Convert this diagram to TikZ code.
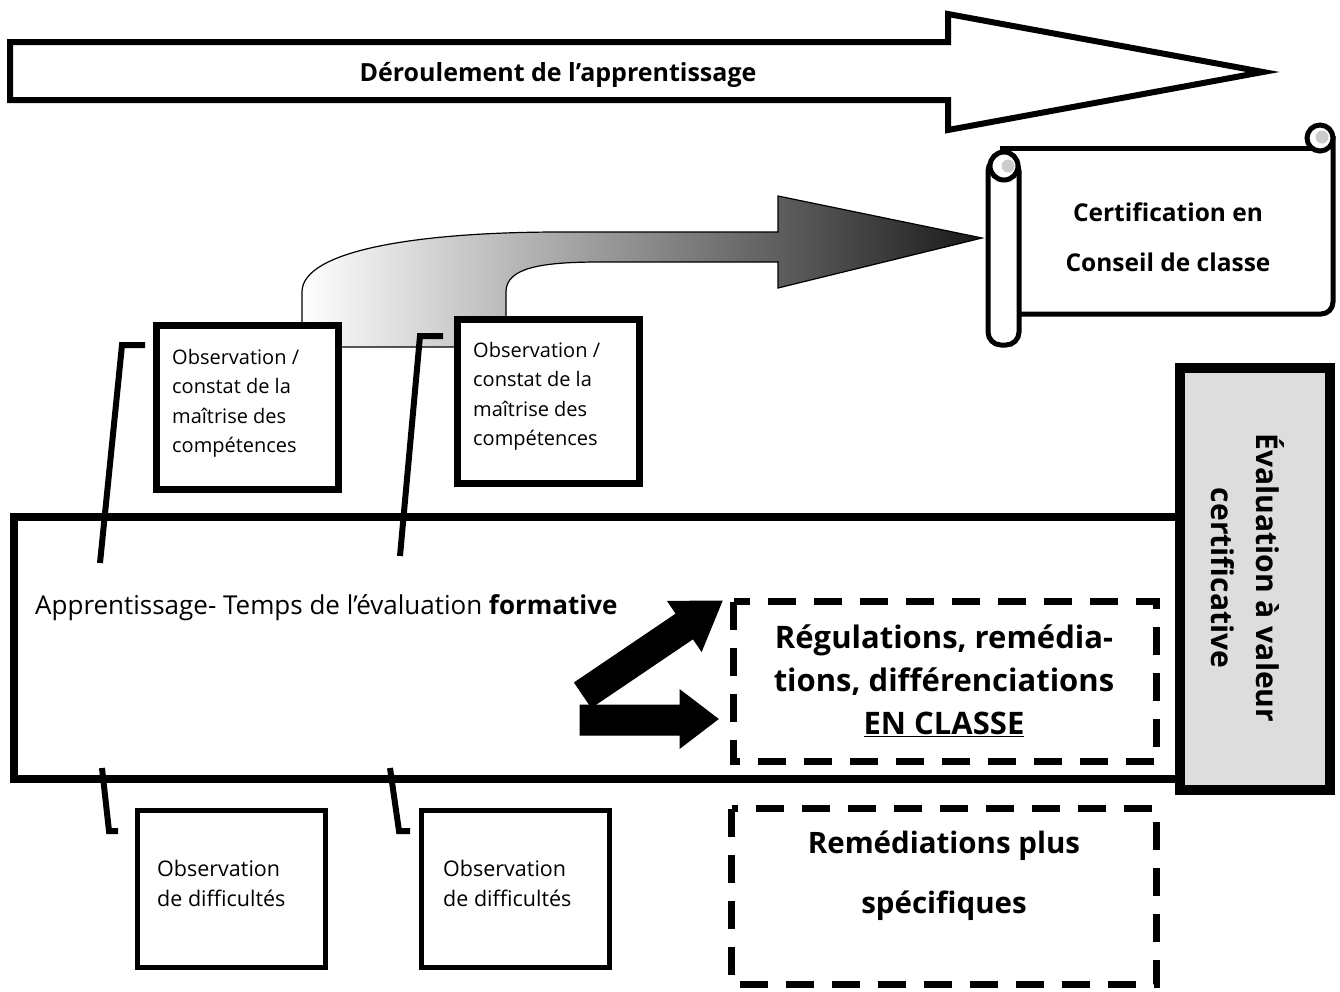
\documentclass[tikz,border=0pt]{standalone}
\usepackage{fontspec}
\setmainfont{Open Sans}
\usetikzlibrary{calc}
\begin{document}
\begin{tikzpicture}[x=1pt,y=-1pt,
  obs/.style={draw, line width=7, fill=white, minimum width=182pt, minimum height=164pt, inner sep=0pt},
  obslow/.style={draw, line width=5, fill=white, minimum width=188pt, minimum height=157pt, inner sep=0pt},
  dbox/.style={line width=7, dash pattern=on 28pt off 18pt},
  hook/.style={line width=6, line join=miter},
  small/.style={font=\fontsize{20}{29.5}\selectfont, align=left, inner sep=0pt},
  smalllow/.style={font=\fontsize{21.5}{29.5}\selectfont, align=left, inner sep=0pt},
  bigb/.style={font=\bfseries\fontsize{31}{43}\selectfont, align=center, inner sep=0pt},
  blk/.style={fill=black, draw=black, line width=1}
]
\useasboundingbox (0,0) rectangle (1340,991);

% ---- top flow arrow
\draw[line width=6, fill=white, line join=miter] (10,42) -- (948,42) -- (948,14) -- (1263,72) -- (948,130) -- (948,100) -- (10,100) -- cycle;
\node[font=\bfseries\fontsize{25}{28}\selectfont] (flow) at (558,75) {Déroulement de l’apprentissage};

% ---- scroll
\fill[white] (1000,148) rectangle (1333,314);
\draw[line width=5, rounded corners=12] (1000,148) -- (1318,148);
\draw[line width=5, rounded corners=12] (1333,136) -- (1333,314) -- (1018,314);
\filldraw[line width=5, fill=white] (1320,138) circle (13);
\fill[gray!40] (1322,137) circle (6.5);
\draw[line width=5, fill=white, rounded corners=13] (988,158) rectangle (1019,345);
\filldraw[line width=5, fill=white] (1004,166) circle (14);
\fill[gray!40] (1008,166) circle (6.5);
\node[font=\bfseries\fontsize{24.5}{50}\selectfont, align=center] (cert) at (1168,237) {Certification en\\Conseil de classe};

% ---- gradient arrow
\shade[left color=white, right color=black!90, draw=black, line width=1.2]
  (302,347) -- (302,292) .. controls (302,250) and (420,232) .. (560,232) -- (778,232) -- (778,196)
  -- (982,238) -- (778,288) -- (778,262) -- (600,262) .. controls (540,262) and (506,268) .. (506,292)
  -- (506,347) -- cycle;

% ---- main box
\draw[line width=8, line join=miter] (14,517) rectangle (1180,779);
\node[anchor=west, inner sep=0pt, font=\fontsize{26}{30}\selectfont] (appr) at (35,608) {Apprentissage- Temps de l’évaluation \textbf{formative}};

% ---- upper observation boxes
\node[obs] (o1) at (247,407) {};
\node[small, anchor=north west] (t1) at (172,349) {Observation /\\constat de la\\maîtrise des\\compétences};
\node[obs] (o2) at (548.5,401) {};
\node[small, anchor=north west] (t2) at (473,342) {Observation /\\constat de la\\maîtrise des\\compétences};

% ---- hooks
\draw[hook] (145,345) -- (122,345) -- (100,563);
\draw[hook] (443,336) -- (420,336) -- (400,556);
\draw[hook] (102,768) -- (109,831) -- (118,831);
\draw[hook] (390,768) -- (399,831) -- (410,831);

% ---- lower observation boxes
\node[obslow] (o3) at (231.5,889) {};
\node[smalllow, anchor=north west] (t3) at (157,860) {Observation\\de difficultés};
\node[obslow] (o4) at (515,889) {};
\node[smalllow, anchor=north west] (t4) at (443,860) {Observation\\de difficultés};

% ---- dashed boxes
\draw[dbox] (733.5,601.5) rectangle (1156.5,761.5);
\node[bigb] (reg) at (944,681) {Régulations, remédia-\\tions, différenciations\\\underline{EN CLASSE}};
\draw[dbox] (731.5,808.5) rectangle (1156.5,984.5);
\node[bigb, font=\bfseries\fontsize{29.5}{60}\selectfont] (rem) at (944,876) {Remédiations plus\\spécifiques};

% ---- black block arrows
\filldraw[blk] (574.6,682.6) -- (676.3,613.8) -- (667.9,601.4) -- (722,601) -- (701.5,651) -- (693.1,638.6) -- (591.4,707.4) -- cycle;
\filldraw[blk] (580,705) -- (680,705) -- (680,690) -- (718,719) -- (680,748) -- (680,735) -- (580,735) -- cycle;

% ---- certificative box
\draw[line width=10, fill=gray!27, line join=miter] (1180,368) rectangle (1330,790);
\node[rotate=-90, font=\bfseries\fontsize{30}{45}\selectfont, align=center] (certif) at (1248,578) {Évaluation à valeur\\certificative};
\end{tikzpicture}
\end{document}
